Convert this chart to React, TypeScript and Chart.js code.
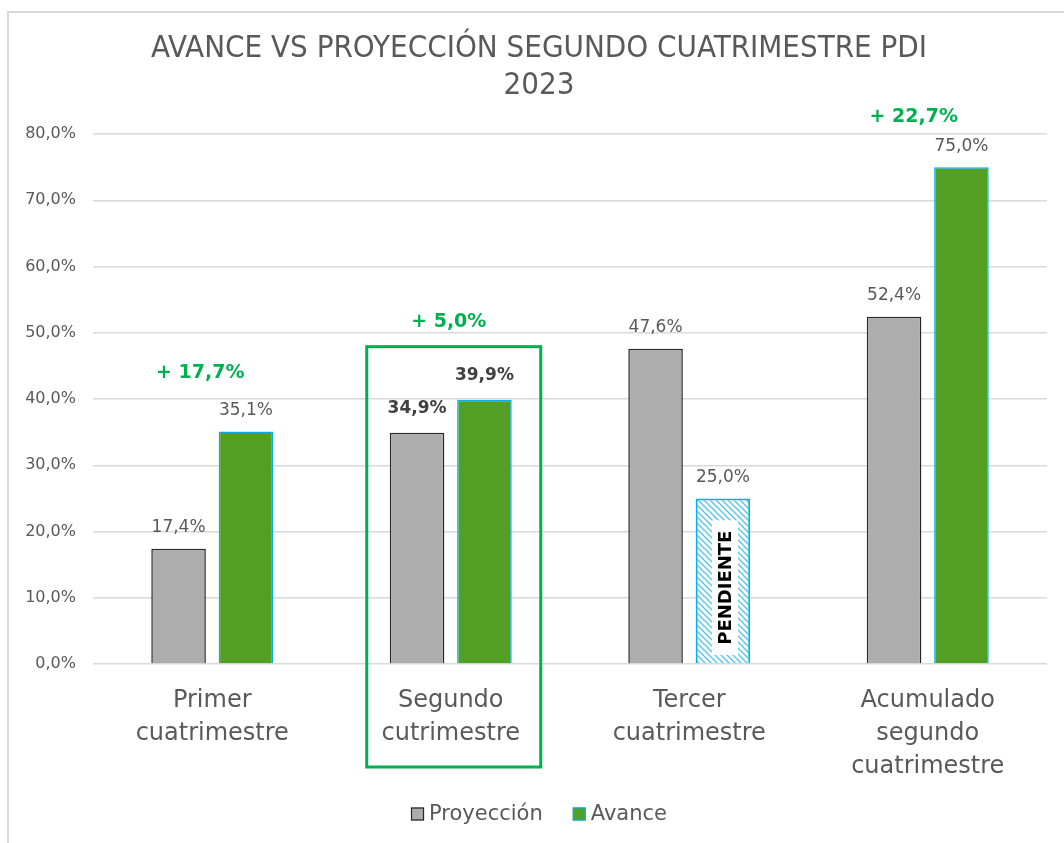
import React, { useEffect, useRef } from "react";
import { Chart, registerables } from "chart.js";

Chart.register(...registerables);

const titleLines = ["AVANCE VS PROYECCIÓN SEGUNDO CUATRIMESTRE PDI", "2023"];
const categories = [
  ["Primer", "cuatrimestre"],
  ["Segundo", "cutrimestre"],
  ["Tercer", "cuatrimestre"],
  ["Acumulado", "segundo", "cuatrimestre"],
];
const proyeccion = [17.4, 34.9, 47.6, 52.4];
const avance = [35.1, 39.9, 25.0, 75.0];
const pendiente = [false, false, true, false];
const diferencias = ["+ 17,7%", "+ 5,0%", "", "+ 22,7%"];
const highlighted = [false, true, false, false];
const seriesNames = ["Proyección", "Avance"];
const yMax = 80;
const yStep = 10;

const GRAY = "#ADADAD";
const GREEN = "#529F24";
const BLUE = "#00B0F0";
const TEXT = "#595959";
const DIFF = "#00B050";
const SANS = "'DejaVu Sans', sans-serif";

const fmt = (v: number) => v.toFixed(1).replace(".", ",") + "%";

function makePattern(ctx: CanvasRenderingContext2D) {
  const c = document.createElement("canvas");
  c.width = 6;
  c.height = 6;
  const g = c.getContext("2d")!;
  g.fillStyle = "#ffffff";
  g.fillRect(0, 0, 6, 6);
  g.strokeStyle = "#4FC3EE";
  g.lineWidth = 1.3;
  g.beginPath();
  g.moveTo(0, 0);
  g.lineTo(6, 6);
  g.moveTo(-3, 3);
  g.lineTo(3, 9);
  g.moveTo(3, -3);
  g.lineTo(9, 3);
  g.stroke();
  return ctx.createPattern(c, "repeat")!;
}

export default function App() {
  const ref = useRef<HTMLCanvasElement | null>(null);

  useEffect(() => {
    document.body.style.margin = "0";
    const canvas = ref.current!;
    const ctx0 = canvas.getContext("2d")!;
    const pattern = makePattern(ctx0);

    const decor = {
      id: "decor",
      beforeDraw(chart: any) {
        const { ctx, width, height } = chart;
        ctx.save();
        ctx.fillStyle = "#ffffff";
        ctx.fillRect(0, 0, width, height);
        ctx.strokeStyle = "#D9D9D9";
        ctx.lineWidth = 2;
        ctx.beginPath();
        ctx.moveTo(8, height);
        ctx.lineTo(8, 12);
        ctx.lineTo(width, 12);
        ctx.stroke();
        // title
        ctx.fillStyle = TEXT;
        ctx.textAlign = "center";
        ctx.textBaseline = "middle";
        ctx.font = "31px 'DejaVu Sans Condensed', 'DejaVu Sans', sans-serif";
        ctx.fillText(titleLines[0], 539, 49, 778);
        ctx.fillText(titleLines[1], 539, 86);
        ctx.restore();
      },
      afterDatasetsDraw(chart: any) {
        const { ctx, chartArea } = chart;
        const yScale = chart.scales.y;
        const xScale = chart.scales.x;
        const m0 = chart.getDatasetMeta(0);
        const m1 = chart.getDatasetMeta(1);
        ctx.save();
        ctx.textAlign = "center";
        ctx.textBaseline = "middle";
        [m0, m1].forEach((meta: any, di: number) => {
          const vals = di === 0 ? proyeccion : avance;
          meta.data.forEach((bar: any, i: number) => {
            const bold = highlighted[i];
            ctx.font = (bold ? "bold 17px " : "17px ") + SANS;
            ctx.fillStyle = bold ? "#404040" : "#595959";
            ctx.fillText(fmt(vals[i]), bar.x, bar.y - (bold ? 24 : 21));
          });
        });
        // pendiente label
        m1.data.forEach((bar: any, i: number) => {
          if (!pendiente[i]) return;
          const cx = bar.x + 2;
          const base = chartArea.bottom;
          const top = bar.y + 22;
          const bottom = base - 9;
          ctx.fillStyle = "#ffffff";
          ctx.fillRect(cx - 13, top, 26, bottom - top);
          ctx.save();
          ctx.translate(cx, (top + bottom) / 2);
          ctx.rotate(-Math.PI / 2);
          ctx.font = "bold 18px " + SANS;
          ctx.fillStyle = "#000000";
          ctx.fillText("PENDIENTE", 0, 1);
          ctx.restore();
        });
        // differences
        const dxs = [-12, -2, 0, -14];
        const dys = [58, 78, 0, 50];
        ctx.font = "bold 19px " + SANS;
        ctx.fillStyle = DIFF;
        diferencias.forEach((t, i) => {
          if (!t) return;
          const top = yScale.getPixelForValue(Math.max(proyeccion[i], avance[i]));
          ctx.fillText(t, xScale.getPixelForValue(i) + dxs[i], top - dys[i]);
        });
        // highlight box
        highlighted.forEach((h, i) => {
          if (!h) return;
          const cx = xScale.getPixelForValue(i);
          const top = yScale.getPixelForValue(avance[i]) - 53;
          ctx.strokeStyle = DIFF;
          ctx.lineWidth = 3;
          ctx.strokeRect(cx - 84, top, 174, chartArea.bottom + 103 - top);
        });
        ctx.restore();
      },
      afterDraw(chart: any) {
        const { ctx } = chart;
        ctx.save();
        ctx.font = "21px " + SANS;
        ctx.textBaseline = "middle";
        ctx.textAlign = "left";
        const box = 13;
        const gapBox = 5;
        const gapItem = 30;
        const widths = seriesNames.map((n) => ctx.measureText(n).width);
        const total = widths.reduce((a, w) => a + box + gapBox + w, 0) + gapItem;
        let x = 539 - total / 2;
        const y = 814;
        const fills = [GRAY, GREEN];
        const strokes = ["#262626", BLUE];
        seriesNames.forEach((n, i) => {
          ctx.fillStyle = fills[i];
          ctx.fillRect(x, y - box / 2, box, box);
          ctx.strokeStyle = strokes[i];
          ctx.lineWidth = 1.2;
          ctx.strokeRect(x + 0.5, y - box / 2 + 0.5, box - 1, box - 1);
          ctx.fillStyle = TEXT;
          ctx.fillText(n, x + box + gapBox, y + 1);
          x += box + gapBox + widths[i] + gapItem;
        });
        ctx.restore();
      },
    };

    const chart = new Chart(canvas, {
      type: "bar",
      data: {
        labels: categories,
        datasets: [
          {
            label: seriesNames[0],
            data: proyeccion,
            backgroundColor: GRAY,
            borderColor: "#262626",
            borderWidth: 1.5,
            barPercentage: 0.81,
            categoryPercentage: 0.565,
          },
          {
            label: seriesNames[1],
            data: avance,
            backgroundColor: (c: any) =>
              c.type === "data" && pendiente[c.dataIndex] ? pattern : GREEN,
            borderColor: BLUE,
            borderWidth: (c: any) => (c.type === "data" && pendiente[c.dataIndex] ? 2 : 1.5),
            barPercentage: 0.81,
            categoryPercentage: 0.565,
          },
        ],
      },
      options: {
        animation: false,
        responsive: false,
        maintainAspectRatio: false,
        layout: { padding: { left: 20, right: 17, top: 134, bottom: 0 } },
        plugins: {
          legend: { display: false },
          title: { display: false },
          tooltip: { enabled: false },
        },
        scales: {
          x: {
            grid: { display: false, drawTicks: false },
            border: { display: false },
            ticks: {
              color: TEXT,
              font: { family: SANS, size: 24, lineHeight: 1.38 },
              padding: 20,
              maxRotation: 0,
              autoSkip: false,
            },
            afterFit: (s: any) => {
              s.height = 179;
            },
          },
          y: {
            min: 0,
            max: yMax,
            grid: { color: "#D9D9D9", lineWidth: 1.5, drawTicks: false },
            border: { display: false },
            ticks: {
              stepSize: yStep,
              color: TEXT,
              font: { family: SANS, size: 16 },
              padding: 17,
              callback: (v: any) => fmt(Number(v)),
            },
            afterFit: (s: any) => {
              s.width = 73;
            },
          },
        },
      },
      plugins: [decor],
    } as any);

    return () => chart.destroy();
  }, []);

  return <canvas ref={ref} width={1064} height={843} style={{ display: "block" }} />;
}
